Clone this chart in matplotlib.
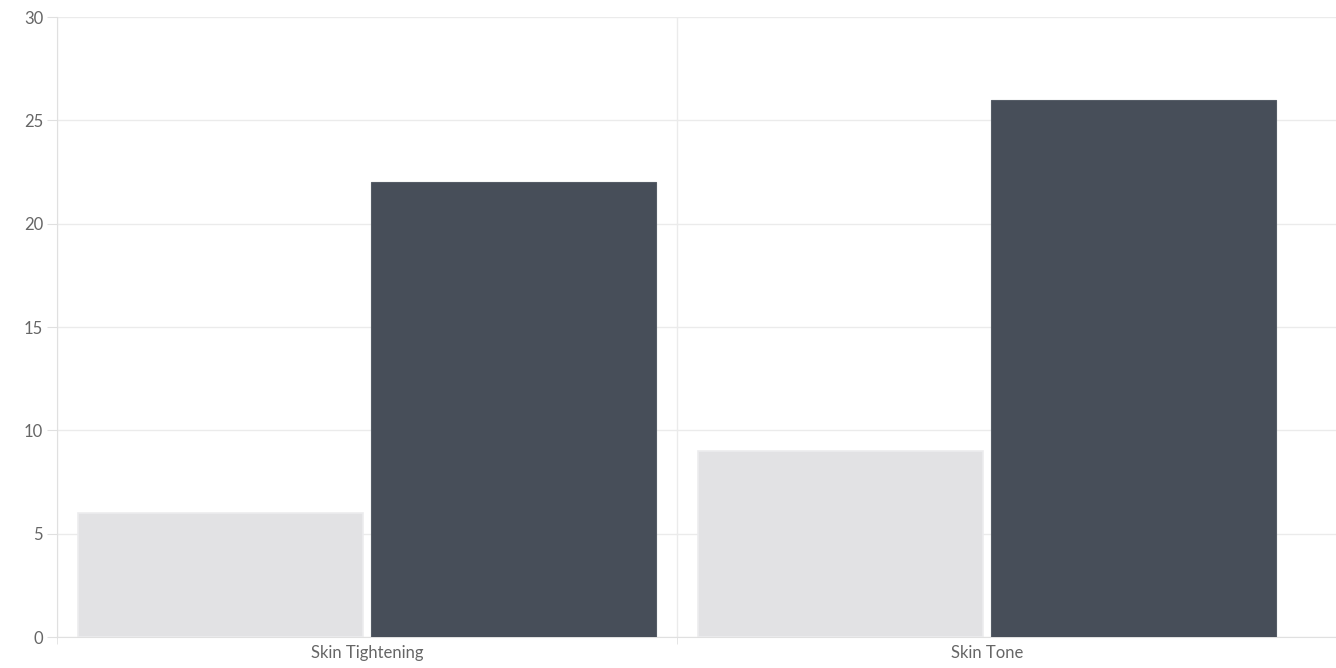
import numpy as np
import matplotlib
matplotlib.use('Agg')
import matplotlib.pyplot as plt

categories = ['Skin Tightening', 'Skin Tone']
series_light = [6, 9]
series_dark = [22, 26]
y_ticks = [0, 5, 10, 15, 20, 25, 30]

plt.rcParams['font.family'] = ['Lato', 'DejaVu Sans']

fig = plt.figure(figsize=(13.36, 6.68), dpi=100)
# axes spans x 57..1336 px, y 17..637 px
ax = fig.add_axes([57 / 1336, 31 / 668, 1279 / 1336, 620 / 668])

x = np.arange(len(categories))
w = 285 / 620
off = 146.5 / 620

ax.bar(x - off, series_light, width=w, color='#e2e2e4', edgecolor='#ececee', linewidth=1.2, zorder=3)
ax.bar(x + off, series_dark, width=w, color='#474e59', edgecolor='#565d67', linewidth=0.8, zorder=3)

ax.set_xlim(-0.5, 1.5 + 39 / 620)
ax.set_ylim(0, 30)

ax.set_yticks(y_ticks)
ax.set_yticklabels([str(v) for v in y_ticks])
ax.set_xticks(x)
ax.set_xticklabels(categories)
ax.set_xticks([-0.5, 0.5], minor=True)

ax.grid(axis='y', color='#ebebeb', linewidth=1, zorder=0)
ax.grid(axis='x', which='minor', color='#ebebeb', linewidth=1, zorder=0)

ax.tick_params(axis='y', length=7, color='#e0e0e0', labelcolor='#666666', labelsize=12, pad=3)
ax.tick_params(axis='x', which='major', length=0, labelcolor='#666666', labelsize=12, pad=6)
ax.tick_params(axis='x', which='minor', length=5, color='#e0e0e0')

for s in ['top', 'right']:
    ax.spines[s].set_visible(False)
ax.spines['left'].set_color('#e0e0e0')
ax.spines['bottom'].set_color('#e0e0e0')

fig.savefig('out.png', dpi=100)
